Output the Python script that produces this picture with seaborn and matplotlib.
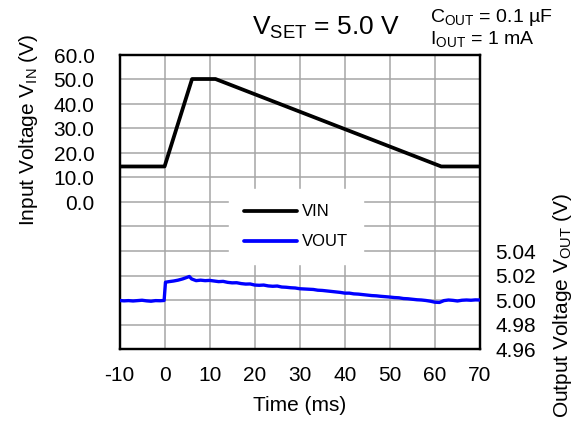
import numpy as np
import pandas as pd
import seaborn as sns
import matplotlib.pyplot as plt
from matplotlib.lines import Line2D

# input voltage trace (ms, V)
t_vin = [-10, 0, 6.1, 11.3, 61.4, 70]
vin = [14.5, 14.5, 50.2, 50.2, 14.5, 14.5]

# output voltage trace (ms, V)
t_vout = [-10, -9, -8, -7, -6, -5, -4, -3, -2, -1, -0.1,
          0.2, 1, 2, 3, 4, 5, 5.5, 6, 7, 8, 9, 10,
          11, 12, 13, 14, 15, 16, 17, 18, 19, 20,
          21, 22, 23, 24, 25, 26, 27, 28, 29, 30,
          31, 32, 33, 34, 35, 36, 37, 38, 39, 40,
          41, 42, 43, 44, 45, 46, 47, 48, 49, 50,
          51, 52, 53, 54, 55, 56, 57, 58, 59, 60,
          61, 62, 63, 64, 65, 66, 67, 68, 69, 70]
vout = [4.9996, 4.9993, 4.9995, 4.9992, 4.9995, 4.9998, 4.9993, 4.9990, 4.9995, 4.9994, 4.9996,
        5.0145, 5.0150, 5.0155, 5.0162, 5.0172, 5.0185, 5.0192, 5.0172, 5.0158, 5.0162, 5.0158, 5.0160,
        5.0155, 5.0150, 5.0152, 5.0144, 5.0140, 5.0141, 5.0134, 5.0130, 5.0131, 5.0122,
        5.0120, 5.0122, 5.0115, 5.0112, 5.0114, 5.0106, 5.0104, 5.0100, 5.0098, 5.0092,
        5.0090, 5.0088, 5.0086, 5.0080, 5.0078, 5.0074, 5.0070, 5.0066, 5.0062, 5.0056,
        5.0056, 5.0050, 5.0048, 5.0044, 5.0040, 5.0036, 5.0034, 5.0030, 5.0027, 5.0024,
        5.0020, 5.0018, 5.0012, 5.0010, 5.0006, 5.0002, 5.0000, 4.9996, 4.9990, 4.9982,
        4.9980, 4.9995, 5.0000, 4.9997, 4.9992, 4.9998, 5.0000, 4.9998, 5.0001, 5.0000]

left_ticks = [-60, -50, -40, -30, -20, -10, 0, 10, 20, 30, 40, 50, 60]
right_ticks = [4.96, 4.98, 5.00, 5.02, 5.04]
x_ticks = [-10, 0, 10, 20, 30, 40, 50, 60, 70]

sns.set_style("white")
plt.rcParams['font.family'] = ['Liberation Sans', 'DejaVu Sans']
plt.rcParams['mathtext.default'] = 'regular'
plt.rcParams['text.color'] = 'black'
plt.rcParams['axes.labelcolor'] = 'black'

df_in = pd.DataFrame({"t": t_vin, "v": vin})
df_out = pd.DataFrame({"t": t_vout, "v": vout})

fig = plt.figure(figsize=(5.79, 4.23), dpi=100)
ax = fig.add_axes([119.5 / 579, 1 - 349 / 423, (480 - 119.5) / 579, (349 - 55) / 423])
ax2 = ax.twinx()

sns.lineplot(data=df_in, x="t", y="v", ax=ax, color="black", linewidth=2.7, zorder=3)
sns.lineplot(data=df_out, x="t", y="v", ax=ax2, color="#0000ff", linewidth=2.4, zorder=3)

ax.set_xlim(-10, 70)
ax.set_ylim(-60, 60)
ax2.set_ylim(4.96, 5.20)
ax.set_xticks(x_ticks)
ax.set_xticklabels([str(x) for x in x_ticks])
ax.set_yticks(left_ticks)
ax.set_yticklabels(["%.1f" % v if v >= 0 else "" for v in left_ticks])
ax2.set_yticks(right_ticks)
ax2.set_yticklabels(["%.2f" % v for v in right_ticks])

ax.grid(True, color="#a6a6a6", linewidth=1.1)
ax.set_axisbelow(True)
ax.tick_params(axis="both", length=0, labelsize=15, colors="black")
ax.tick_params(axis="x", pad=12)
ax.tick_params(axis="y", pad=18)
ax2.tick_params(axis="y", length=0, labelsize=15, pad=11, colors="black")
for a in (ax, ax2):
    for s in a.spines.values():
        s.set_color("black")
        s.set_linewidth(1.6)

ax.set_xlabel("Time (ms)", fontsize=15, labelpad=8)
ax.set_ylabel("")
ax2.set_ylabel("")
fig.text(29 / 579, 1 - 130 / 423, "Input Voltage V$_{IN}$ (V)", rotation=90,
         ha="center", va="center", fontsize=15)
fig.text(563 / 579, 1 - 306 / 423, "Output Voltage V$_{OUT}$ (V)", rotation=90,
         ha="center", va="center", fontsize=15)

fig.text(326 / 579, 1 - 28 / 423, "V$_{SET}$ = 5.0 V", ha="center", va="center", fontsize=19)
fig.text(430 / 579, 1 - 17 / 423, "C$_{OUT}$ = 0.1 µF", ha="left", va="center", fontsize=14)
fig.text(430 / 579, 1 - 39 / 423, "I$_{OUT}$ = 1 mA", ha="left", va="center", fontsize=14)

handles = [Line2D([], [], color="black", linewidth=2.7),
           Line2D([], [], color="#0000ff", linewidth=2.7)]
leg = ax2.legend(handles, ["VIN", "VOUT"], loc="center", bbox_to_anchor=(0.49, 0.415),
                 frameon=True, fontsize=12, handlelength=3.2, handletextpad=0.3,
                 labelspacing=0.9, borderpad=0.9, fancybox=False)
leg.get_frame().set_edgecolor("white")
leg.get_frame().set_facecolor("white")
leg.get_frame().set_alpha(1)

plt.savefig("out.png", dpi=100)
